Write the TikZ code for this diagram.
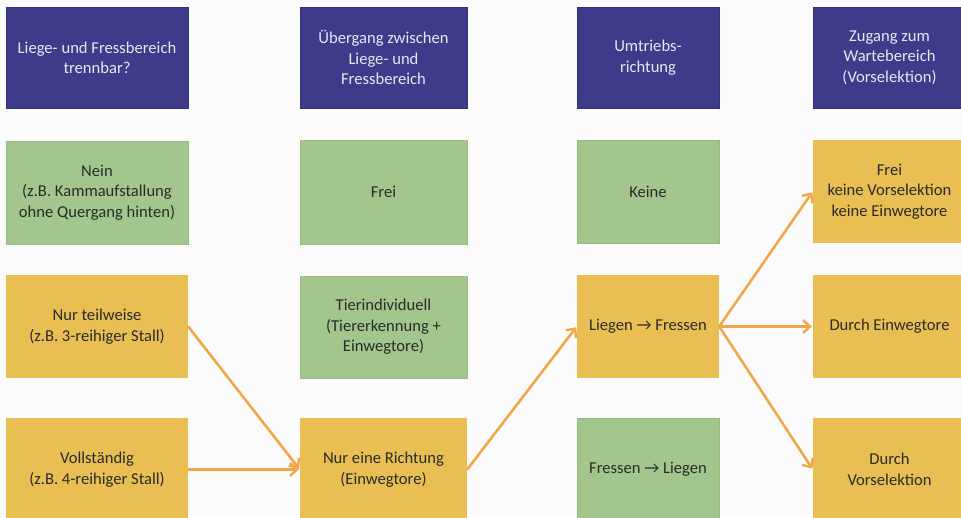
\documentclass[tikz,border=0pt]{standalone}
\usepackage{fontspec}
\setmainfont{Carlito}
\usetikzlibrary{arrows.meta}
\definecolor{hdrblue}{HTML}{3E3C8A}
\definecolor{hdrblueedge}{HTML}{34327A}
\definecolor{okgreen}{HTML}{A2C68C}
\definecolor{okgreenedge}{HTML}{96BA80}
\definecolor{warnyellow}{HTML}{E9BF53}
\definecolor{flow}{HTML}{F2A64A}
\definecolor{txtdark}{HTML}{2B2B2B}
\tikzset{
  cell/.style={rectangle, inner sep=2pt, align=center, font=\fontsize{16.6}{20.5}\selectfont},
  hdr/.style={cell, fill=hdrblue, draw=hdrblueedge, line width=0.6pt, text=white!88!hdrblue},
  good/.style={cell, fill=okgreen, draw=okgreenedge, line width=0.6pt, text=txtdark},
  mid/.style={cell, fill=warnyellow, text=txtdark},
  flowarrow/.style={draw=flow, line width=2.6pt, -{Straight Barb[length=7pt,width=13pt,line width=2.4pt]}, shorten >=1pt}
}
\begin{document}
\begin{tikzpicture}[x=1pt,y=-1pt]
\useasboundingbox (0,0) rectangle (961,517);
\fill[white!97!gray] (0,0) rectangle (961,517);

% column headers
\node[hdr, minimum width=182pt, minimum height=101pt] (h1) at (97,58) {Liege- und Fressbereich\\trennbar?};
\node[hdr, minimum width=167pt, minimum height=101pt] (h2) at (383.5,57.5) {Übergang zwischen\\Liege- und\\Fressbereich};
\node[hdr, minimum width=142pt, minimum height=101pt] (h3) at (648,57.5) {Umtriebs-\\richtung};
\node[hdr, minimum width=153pt, minimum height=101pt] (h4) at (889.5,57.5) {Zugang zum\\Wartebereich\\(Vorselektion)};

% column 1: separability
\node[good, minimum width=182pt, minimum height=103pt] (a1) at (97,192.5) {Nein\\(z.B. Kammaufstallung\\ohne Quergang hinten)};
\node[mid, minimum width=182pt, minimum height=103pt] (a2) at (97,326.5) {Nur teilweise\\(z.B. 3-reihiger Stall)};
\node[mid, minimum width=182pt, minimum height=103pt] (a3) at (97,469.5) {Vollständig\\(z.B. 4-reihiger Stall)};

% column 2: transition
\node[good, minimum width=167pt, minimum height=104pt] (b1) at (383.5,192) {Frei};
\node[good, minimum width=167pt, minimum height=102pt] (b2) at (383.5,327) {Tierindividuell\\(Tiererkennung +\\Einwegtore)};
\node[mid, minimum width=167pt, minimum height=103pt] (b3) at (383.5,469.5) {Nur eine Richtung\\(Einwegtore)};

% column 3: direction of rotation
\node[good, minimum width=142pt, minimum height=103pt] (c1) at (648,191.5) {Keine};
\node[mid, minimum width=142pt, minimum height=103pt] (c2) at (648,326.5) {Liegen \symbol{"2192} Fressen};
\node[good, minimum width=142pt, minimum height=103pt] (c3) at (648,469.5) {Fressen \symbol{"2192} Liegen};

% column 4: access to waiting area
\node[mid, minimum width=153pt, minimum height=103pt] (d1) at (889.5,191.5) {Frei\\keine Vorselektion\\keine Einwegtore};
\node[mid, minimum width=153pt, minimum height=103pt] (d2) at (889.5,326.5) {Durch Einwegtore};
\node[mid, minimum width=153pt, minimum height=103pt] (d3) at (889.5,469.5) {Durch\\Vorselektion};

% flow
\draw[flowarrow] (a2.east) -- (b3.west);
\draw[flowarrow] (a3.east) -- (b3.west);
\draw[flowarrow] (b3.east) -- (c2.west);
\draw[flowarrow] (c2.east) -- (d1.west);
\draw[flowarrow] (c2.east) -- (d2.west);
\draw[flowarrow] (c2.east) -- (d3.west);
\end{tikzpicture}
\end{document}
